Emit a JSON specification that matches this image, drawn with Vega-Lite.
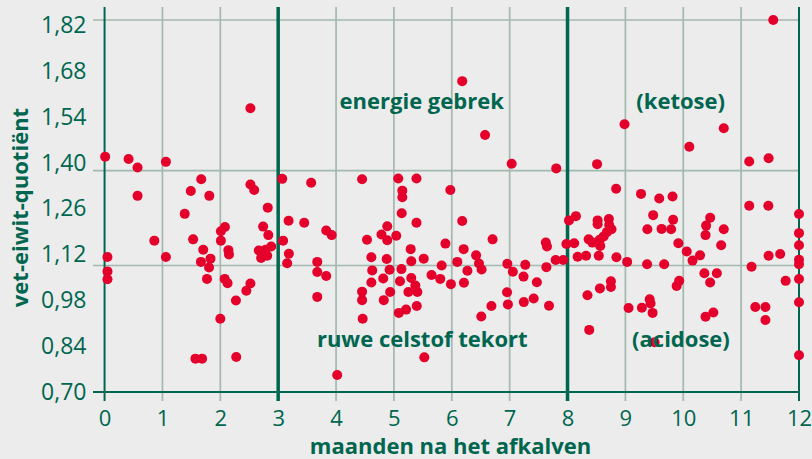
{
  "$schema": "https://vega.github.io/schema/vega-lite/v6.json",
  "width": 706,
  "height": 372,
  "autosize": {"type": "none"},
  "padding": {"left": 93, "top": 20, "right": 13, "bottom": 67},
  "background": "#ebeceb",
  "config": {"view": {"stroke": null}, "font": "Open Sans"},
  "resolve": {"axis": {"x": "independent", "y": "independent"}},
  "datasets": {
    "vgrid": [{"x": 1}, {"x": 2}, {"x": 4}, {"x": 5}, {"x": 6}, {"x": 7}, {"x": 9}, {"x": 10}, {"x": 11}],
    "hgrid": [{"y": 1.838}, {"y": 1.3775}, {"y": 1.087}],
    "vthin": [{"x": 0}, {"x": 12}],
    "vthick": [{"x": 3}, {"x": 8}],
    "notes": [
      {"x": 5.48, "y": 1.565, "label": "energie gebrek"},
      {"x": 5.49, "y": 0.8386, "label": "ruwe celstof tekort"},
      {"x": 9.955, "y": 1.565, "label": "(ketose)"},
      {"x": 9.96, "y": 0.8386, "label": "(acidose)"}
    ],
    "pts": [
      {"m":0.01,"q":1.420},{"m":0.415,"q":1.413},{"m":0.57,"q":1.387},{"m":1.06,"q":1.404},{"m":1.67,"q":1.351},
      {"m":1.49,"q":1.315},{"m":1.81,"q":1.300},{"m":0.57,"q":1.300},{"m":1.385,"q":1.245},{"m":2.08,"q":1.205},
      {"m":2.01,"q":1.192},{"m":2.01,"q":1.163},{"m":0.86,"q":1.163},{"m":1.53,"q":1.167},{"m":1.705,"q":1.135},
      {"m":2.14,"q":1.134},{"m":2.15,"q":1.121},{"m":0.05,"q":1.113},{"m":1.06,"q":1.113},{"m":1.83,"q":1.108},
      {"m":1.665,"q":1.098},{"m":1.805,"q":1.081},{"m":0.05,"q":1.069},{"m":0.05,"q":1.045},{"m":1.77,"q":1.046},
      {"m":2.075,"q":1.046},{"m":2.125,"q":1.033},{"m":2.27,"q":0.980},{"m":2.0,"q":0.924},{"m":1.57,"q":0.802},
      {"m":1.685,"q":0.802},{"m":2.275,"q":0.807},{"m":2.45,"q":1.010},{"m":2.52,"q":1.032},{"m":2.52,"q":1.568},
      {"m":2.52,"q":1.335},{"m":2.585,"q":1.318},{"m":3.07,"q":1.352},{"m":2.82,"q":1.264},{"m":2.74,"q":1.206},
      {"m":2.83,"q":1.180},{"m":2.665,"q":1.133},{"m":2.78,"q":1.135},{"m":2.88,"q":1.145},{"m":2.705,"q":1.110},
      {"m":2.81,"q":1.117},{"m":3.085,"q":1.163},{"m":3.18,"q":1.224},{"m":3.185,"q":1.123},{"m":3.155,"q":1.094},
      {"m":3.57,"q":1.340},{"m":3.45,"q":1.218},{"m":3.83,"q":1.194},{"m":3.925,"q":1.180},{"m":3.675,"q":1.098},
      {"m":3.675,"q":1.067},{"m":3.83,"q":1.055},{"m":3.675,"q":0.991},{"m":4.02,"q":0.752},{"m":4.45,"q":1.351},
      {"m":4.535,"q":1.166},{"m":4.61,"q":1.112},{"m":4.625,"q":1.072},{"m":4.61,"q":1.035},{"m":4.45,"q":1.007},
      {"m":4.45,"q":0.981},{"m":4.46,"q":0.924},{"m":6.18,"q":1.651},{"m":6.575,"q":1.486},{"m":7.035,"q":1.398},
      {"m":5.075,"q":1.353},{"m":5.39,"q":1.353},{"m":5.145,"q":1.316},{"m":5.145,"q":1.296},{"m":5.975,"q":1.318},
      {"m":5.135,"q":1.247},{"m":5.39,"q":1.218},{"m":6.18,"q":1.223},{"m":4.885,"q":1.207},{"m":4.785,"q":1.182},
      {"m":4.885,"q":1.164},{"m":5.04,"q":1.178},{"m":6.705,"q":1.167},{"m":5.89,"q":1.154},{"m":5.29,"q":1.137},
      {"m":6.205,"q":1.137},{"m":4.875,"q":1.107},{"m":5.515,"q":1.108},{"m":5.30,"q":1.100},{"m":6.42,"q":1.118},
      {"m":6.095,"q":1.098},{"m":6.47,"q":1.093},{"m":6.515,"q":1.075},{"m":5.825,"q":1.087},{"m":6.96,"q":1.092},
      {"m":7.055,"q":1.068},{"m":4.925,"q":1.074},{"m":5.13,"q":1.076},{"m":6.27,"q":1.071},{"m":5.65,"q":1.058},
      {"m":5.80,"q":1.046},{"m":4.815,"q":1.047},{"m":5.105,"q":1.039},{"m":5.30,"q":1.049},{"m":5.985,"q":1.030},
      {"m":6.21,"q":1.034},{"m":5.37,"q":1.026},{"m":5.25,"q":1.006},{"m":5.405,"q":1.006},{"m":4.935,"q":1.006},
      {"m":4.825,"q":0.981},{"m":6.955,"q":1.005},{"m":6.97,"q":0.968},{"m":6.685,"q":0.963},{"m":6.51,"q":0.931},
      {"m":5.395,"q":0.963},{"m":5.085,"q":0.942},{"m":5.21,"q":0.952},{"m":5.525,"q":0.806},{"m":7.24,"q":1.053},
      {"m":7.27,"q":1.089},{"m":7.245,"q":0.975},{"m":7.415,"q":0.986},{"m":7.47,"q":1.036},{"m":7.625,"q":1.157},
      {"m":7.645,"q":1.145},{"m":7.635,"q":1.082},{"m":7.68,"q":0.964},{"m":7.795,"q":1.104},{"m":7.925,"q":1.104},
      {"m":7.98,"q":1.153},{"m":8.025,"q":1.225},{"m":8.145,"q":1.238},{"m":8.115,"q":1.155},{"m":8.175,"q":1.114},
      {"m":8.32,"q":1.117},{"m":8.365,"q":1.167},{"m":8.43,"q":1.157},{"m":8.52,"q":1.225},{"m":8.52,"q":1.213},
      {"m":8.715,"q":1.229},{"m":8.72,"q":1.211},{"m":8.68,"q":1.189},{"m":8.76,"q":1.198},{"m":8.625,"q":1.176},
      {"m":8.555,"q":1.166},{"m":8.565,"q":1.147},{"m":8.54,"q":1.117},{"m":8.845,"q":1.112},{"m":9.03,"q":1.098},
      {"m":8.75,"q":1.039},{"m":8.75,"q":1.021},{"m":8.56,"q":1.017},{"m":8.345,"q":0.996},{"m":8.375,"q":0.890},
      {"m":8.985,"q":1.519},{"m":7.805,"q":1.384},{"m":8.51,"q":1.397},{"m":8.84,"q":1.322},{"m":9.27,"q":1.306},
      {"m":9.585,"q":1.292},{"m":9.815,"q":1.298},{"m":9.38,"q":1.198},{"m":9.48,"q":1.241},{"m":9.375,"q":1.091},
      {"m":9.055,"q":0.957},{"m":9.285,"q":0.958},{"m":9.42,"q":0.984},{"m":9.435,"q":0.971},{"m":9.47,"q":0.942},
      {"m":9.505,"q":0.852},{"m":9.825,"q":1.227},{"m":9.625,"q":1.199},{"m":9.79,"q":1.198},{"m":9.915,"q":1.155},
      {"m":10.06,"q":1.130},{"m":10.16,"q":1.102},{"m":10.29,"q":1.118},{"m":9.67,"q":1.091},{"m":10.385,"q":1.180},
      {"m":10.395,"q":1.209},{"m":10.465,"q":1.233},{"m":10.70,"q":1.198},{"m":10.655,"q":1.149},{"m":10.365,"q":1.063},
      {"m":10.58,"q":1.063},{"m":10.465,"q":1.035},{"m":9.93,"q":1.040},{"m":9.885,"q":1.024},{"m":10.385,"q":0.930},
      {"m":10.52,"q":0.943},{"m":11.18,"q":1.083},{"m":11.14,"q":1.270},{"m":11.47,"q":1.270},{"m":11.475,"q":1.117},
      {"m":11.675,"q":1.122},{"m":11.77,"q":1.040},{"m":11.245,"q":0.960},{"m":11.42,"q":0.960},{"m":11.42,"q":0.920},
      {"m":12,"q":1.2445},{"m":12,"q":1.186},{"m":12,"q":1.149},{"m":12,"q":1.1045},{"m":12,"q":1.091},
      {"m":12,"q":1.0455},{"m":12,"q":0.9745},{"m":12,"q":0.8125},{"m":11.555,"q":1.838},{"m":10.70,"q":1.507},
      {"m":10.105,"q":1.4505},{"m":11.14,"q":1.405},{"m":11.475,"q":1.415}
    ]
  },
  "layer": [
    {
      "data": {"name": "vgrid"},
      "mark": {"type": "rule", "color": "#a3b8ae", "strokeWidth": 1.7},
      "encoding": {
        "x": {"field": "x", "type": "quantitative", "axis": null, "scale": {"domain": [-0.2, 12], "nice": false, "zero": false}},
        "y": {"datum": 0.6725, "type": "quantitative", "axis": null, "scale": {"domain": [0.70, 1.838], "nice": false, "zero": false}},
        "y2": {"datum": 1.878}
      }
    },
    {
      "data": {"name": "hgrid"},
      "mark": {"type": "rule", "color": "#a3b8ae", "strokeWidth": 1.7},
      "encoding": {
        "y": {"field": "y", "type": "quantitative", "axis": null},
        "x": {"datum": -0.2, "type": "quantitative", "axis": null},
        "x2": {"datum": 12}
      }
    },
    {
      "data": {"name": "vthin"},
      "mark": {"type": "rule", "color": "#00664f", "strokeWidth": 2},
      "encoding": {
        "x": {"field": "x", "type": "quantitative", "axis": null},
        "y": {"datum": 0.6725, "type": "quantitative", "axis": null},
        "y2": {"datum": 1.878}
      }
    },
    {
      "data": {"name": "vthick"},
      "mark": {"type": "rule", "color": "#00664f", "strokeWidth": 3.5},
      "encoding": {
        "x": {"field": "x", "type": "quantitative", "axis": null},
        "y": {"datum": 0.6725, "type": "quantitative", "axis": null},
        "y2": {"datum": 1.878}
      }
    },
    {
      "data": {"values": [{"y": 0.70}]},
      "mark": {"type": "rule", "color": "#00664f", "strokeWidth": 2},
      "encoding": {
        "y": {"field": "y", "type": "quantitative", "axis": null},
        "x": {"datum": -0.2, "type": "quantitative", "axis": null},
        "x2": {"datum": 12}
      }
    },
    {
      "data": {"name": "pts"},
      "mark": {"type": "circle", "size": 100, "color": "#e4002b", "opacity": 1},
      "encoding": {
        "x": {
          "field": "m", "type": "quantitative",
          "axis": {
            "values": [0, 1, 2, 3, 4, 5, 6, 7, 8, 9, 10, 11, 12],
            "title": "maanden na het afkalven",
            "domain": false, "ticks": false, "grid": false,
            "labelFont": "Open Sans", "labelFontSize": 22, "labelColor": "#00664f",
            "labelPadding": 16, "labelFlush": false, "labelOverlap": false, "labelBound": false,
            "titleFont": "Open Sans", "titleFontWeight": "bold", "titleFontSize": 22, "titleColor": "#00664f",
            "titleX": 357, "titleY": 61, "titleBaseline": "alphabetic", "titleAlign": "center"
          }
        },
        "y": {
          "field": "q", "type": "quantitative",
          "axis": {
            "values": [0.7, 0.84, 0.98, 1.12, 1.26, 1.4, 1.54, 1.68, 1.82],
            "labelExpr": "replace(format(datum.value, '.2f'), '.', ',')",
            "title": "vet-eiwit-quotiënt",
            "domain": false, "ticks": false, "grid": false,
            "labelFont": "Open Sans", "labelFontSize": 23, "labelColor": "#00664f",
            "labelPadding": 7, "labelFlush": false, "labelOverlap": false, "labelBound": false,
            "titleFont": "Open Sans", "titleFontWeight": "bold", "titleFontSize": 22, "titleColor": "#00664f",
            "titleX": -66, "titleY": 187, "titleAngle": -90, "titleBaseline": "alphabetic", "titleAlign": "center"
          }
        }
      }
    },
    {
      "data": {"name": "notes"},
      "mark": {"type": "text", "font": "Open Sans", "fontWeight": "bold", "fontSize": 22, "color": "#00664f", "align": "center", "baseline": "alphabetic"},
      "encoding": {
        "x": {"field": "x", "type": "quantitative", "axis": null},
        "y": {"field": "y", "type": "quantitative", "axis": null},
        "text": {"field": "label"}
      }
    }
  ]
}
